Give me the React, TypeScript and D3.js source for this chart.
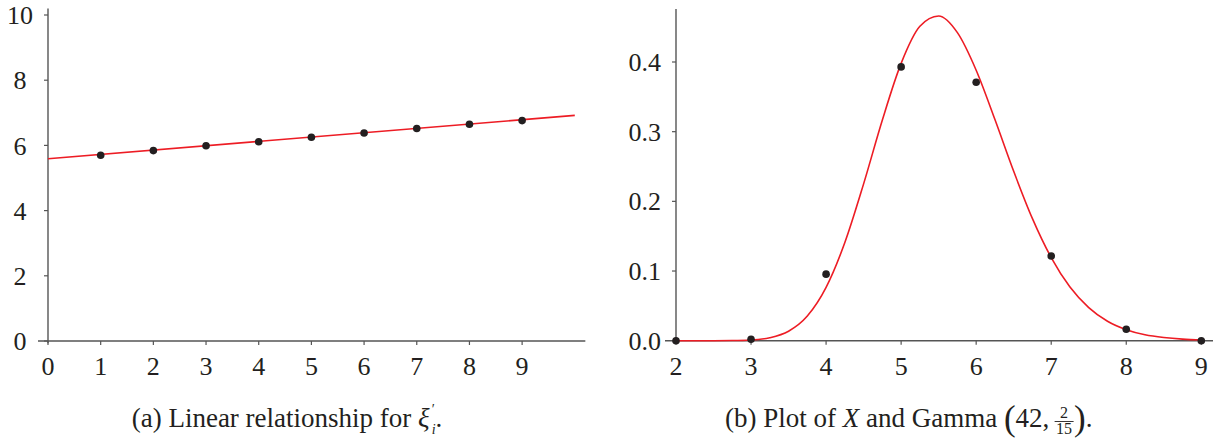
import React, { useLayoutEffect, useRef, useState } from "react";
import * as d3 from "d3";

// ---- Left panel data ----
const linX = [1, 2, 3, 4, 5, 6, 7, 8, 9];
const linY = [5.7, 5.84, 5.99, 6.11, 6.25, 6.38, 6.52, 6.65, 6.76];
const fitX = [0, 10];
const fitY = [5.59, 6.92];
const leftXTicks = [0, 1, 2, 3, 4, 5, 6, 7, 8, 9];
const leftYTicks = [0, 2, 4, 6, 8, 10];

// ---- Right panel data ----
const gamX = [2, 3, 4, 5, 6, 7, 8, 9];
const gamY = [0, 0.002, 0.0955, 0.393, 0.371, 0.1216, 0.0164, 0.0];
const curveX = [2, 2.25, 2.5, 2.75, 3, 3.25, 3.5, 3.75, 4, 4.25, 4.5, 4.75, 5, 5.25, 5.5, 5.75, 6, 6.25, 6.5, 6.75, 7, 7.25, 7.5, 7.75, 8, 8.25, 8.5, 8.75, 9];
const curveY = [0, 0.000002, 0.00003, 0.00019, 0.00104, 0.00426, 0.0136, 0.0354, 0.0765, 0.1409, 0.2251, 0.3168, 0.398, 0.4512, 0.466, 0.4421, 0.3882, 0.3174, 0.2431, 0.1752, 0.1193, 0.0771, 0.0475, 0.0279, 0.0158, 0.0085, 0.0045, 0.0022, 0.0011];
const rightXTicks = [2, 3, 4, 5, 6, 7, 8, 9];
const rightYTicks = [0, 0.1, 0.2, 0.3, 0.4];

const RED = "#ed1c24";
const INK = "#231f20";
const AXIS = "#555555";
const FONT = "Liberation Serif";

export default function App() {
  const denRef = useRef<SVGTSpanElement>(null);
  const [bar, setBar] = useState<{ x1: number; x2: number } | null>(null);

  useLayoutEffect(() => {
    const el = denRef.current as any;
    if (el && el.getStartPositionOfChar) {
      const s = el.getStartPositionOfChar(0).x;
      const e = el.getEndPositionOfChar(1).x;
      setBar({ x1: s - 1.5, x2: e + 1.5 });
    }
  }, []);

  // left scales
  const xl = d3.scaleLinear().domain([0, 10]).range([48, 574.8]);
  const yl = d3.scaleLinear().domain([0, 10]).range([341, 15]);
  // right scales
  const xr = d3.scaleLinear().domain([2, 9]).range([676, 1201.3]);
  const yr = d3.scaleLinear().domain([0, 0.4]).range([340.7, 62]);

  const fitLine = d3
    .line<number>()
    .x((_, i) => xl(fitX[i]))
    .y((_, i) => yl(fitY[i]))(fitX);

  const gamLine = d3
    .line<number>()
    .x((_, i) => xr(curveX[i]))
    .y((_, i) => yr(curveY[i]))
    .curve(d3.curveMonotoneX)(curveX);

  const tickFont = 26;
  const capFont = 27;

  return (
    <svg
      width={1213}
      height={442}
      style={{ position: "absolute", left: 0, top: 0, background: "#fff", fontFamily: FONT }}
    >
      <rect width={1213} height={442} fill="#fff" />
      {/* ---------- Left panel ---------- */}
      <g>
        <line x1={xl(-0.19)} x2={xl(10.2)} y1={yl(0)} y2={yl(0)} stroke={AXIS} strokeWidth={1.4} />
        <line x1={xl(0)} x2={xl(0)} y1={yl(-0.07)} y2={yl(10.2)} stroke={AXIS} strokeWidth={1.4} />
        {leftXTicks.map((t) => (
          <g key={"lx" + t}>
            <line x1={xl(t)} x2={xl(t)} y1={yl(0)} y2={yl(0) + 4} stroke={AXIS} strokeWidth={1.2} />
            <text x={xl(t)} y={375} textAnchor="middle" fontSize={tickFont} fill={INK}>
              {t}
            </text>
          </g>
        ))}
        {leftYTicks.map((t) => (
          <g key={"ly" + t}>
            <line x1={xl(0) - 4} x2={xl(0)} y1={yl(t)} y2={yl(t)} stroke={AXIS} strokeWidth={1.2} />
            <text x={20} y={yl(t)} dy="0.35em" textAnchor="middle" fontSize={tickFont} fill={INK}>
              {t}
            </text>
          </g>
        ))}
        <path d={fitLine || ""} fill="none" stroke={RED} strokeWidth={1.6} />
        {linX.map((x, i) => (
          <circle key={"lp" + i} cx={xl(x)} cy={yl(linY[i])} r={3.8} fill={INK} />
        ))}
        {/* caption (a) */}
        <text x={131.7} y={427} fontSize={capFont} fill={INK}>
          (a) Linear relationship for{" "}
          <tspan fontStyle="italic">ξ</tspan>
          <tspan fontSize={14} dy={-13} dx={2}>′</tspan>
          <tspan fontSize={14} fontStyle="italic" dx={-3} dy={20}>i</tspan>
          <tspan dy={-7}>.</tspan>
        </text>
      </g>

      {/* ---------- Right panel ---------- */}
      <g>
        <line x1={665} x2={1213} y1={yr(0)} y2={yr(0)} stroke={AXIS} strokeWidth={1.4} />
        <line x1={xr(2)} x2={xr(2)} y1={yr(-0.003)} y2={yr(0.476)} stroke={AXIS} strokeWidth={1.4} />
        {rightXTicks.map((t) => (
          <g key={"rx" + t}>
            <line x1={xr(t)} x2={xr(t)} y1={yr(0)} y2={yr(0) + 4} stroke={AXIS} strokeWidth={1.2} />
            <text x={xr(t)} y={375} textAnchor="middle" fontSize={tickFont} fill={INK}>
              {t}
            </text>
          </g>
        ))}
        {rightYTicks.map((t) => (
          <g key={"ry" + t}>
            <line x1={xr(2) - 4} x2={xr(2)} y1={yr(t)} y2={yr(t)} stroke={AXIS} strokeWidth={1.2} />
            <text x={661} y={yr(t)} dy="0.35em" textAnchor="end" fontSize={tickFont} fill={INK}>
              {t.toFixed(1)}
            </text>
          </g>
        ))}
        <path d={gamLine || ""} fill="none" stroke={RED} strokeWidth={1.6} />
        {gamX.map((x, i) => (
          <circle key={"rp" + i} cx={xr(x)} cy={yr(gamY[i])} r={3.8} fill={INK} />
        ))}
        {/* caption (b) */}
        <text x={725} y={427} fontSize={capFont} fill={INK}>
          (b) Plot of <tspan fontStyle="italic">X</tspan> and Gamma{" "}
          <tspan fontSize={35} dy={3}>(</tspan>
          <tspan dy={-3}>42, </tspan>
          <tspan fontSize={16} dy={-9} dx={4}>2</tspan>
          <tspan ref={denRef} fontSize={16} dy={16} dx={-12}>15</tspan>
          <tspan fontSize={35} dy={-4} dx={2}>)</tspan>
          <tspan dy={-3}>.</tspan>
        </text>
        {bar && (
          <line x1={bar.x1} x2={bar.x2} y1={421.5} y2={421.5} stroke={INK} strokeWidth={0.9} />
        )}
      </g>
    </svg>
  );
}
